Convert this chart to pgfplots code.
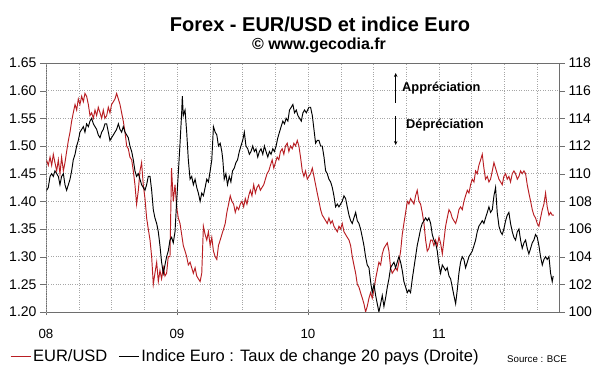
\documentclass[border=0pt]{standalone}
\usepackage{pgfplots}
\pgfplotsset{compat=1.18}
\usepackage{fontspec}
\setmainfont{Liberation Sans}
\usetikzlibrary{arrows.meta}
\definecolor{eurred}{RGB}{185,30,35}
\definecolor{axgray}{RGB}{110,110,110}
\begin{document}
\begin{tikzpicture}
\useasboundingbox (-46pt,-60pt) rectangle (554pt,312pt);
\begin{axis}[
  at={(0pt,0pt)}, anchor=south west,
  scale only axis, width=513pt, height=249pt,
  xmin=0, xmax=47, ymin=1.2, ymax=1.65,
  xtick={0,12,24,36}, xticklabels={},
  minor xtick={3,6,9,15,18,21,27,30,33,39,42,45},
  ytick={1.2,1.25,1.3,1.35,1.4,1.45,1.5,1.55,1.6,1.65},
  xtick pos=bottom, ytick pos=left,
  tick align=outside, major tick length=6pt, minor tick length=0pt,
  xtick style={yshift=3pt},
  xmajorgrids, xminorgrids, ymajorgrids,
  grid style={dotted, gray!70},
  minor grid style={dotted, gray!70},
  axis line style={axgray},
  tick style={axgray},
  /pgf/number format/assume math mode=true,
  yticklabel style={/pgf/number format/.cd, fixed, fixed zerofill, precision=2, /tikz/.cd, font=\fontsize{14}{16}\selectfont},
  extra x ticks={0,12,24,36}, extra x tick labels={08,09,10,11},
  extra x tick style={major tick length=0pt, xticklabel style={font=\fontsize{13.3}{15}\selectfont, anchor=base, yshift=-27pt}},
  legend style={at={(axis description cs:-0.0702,-0.1767)}, anchor=west, draw=none, fill=none,
    inner sep=0pt, font=\fontsize{16.5}{18}\selectfont, /tikz/every even column/.append style={column sep=9pt}},
  legend columns=2, legend cell align=left,
  legend image code/.code={\draw[#1] (0pt,0pt) -- (20pt,0pt);},
]
\addplot[eurred, line width=0.95pt] coordinates {
(0.06,1.474)(0.21,1.465)(0.37,1.48)(0.52,1.465)(0.67,1.485)(0.82,1.47)(0.98,1.455)(1.13,1.475)(1.28,1.45)(1.43,1.48)(1.59,1.455)(1.74,1.47)(1.89,1.49)(2.05,1.51)(2.20,1.525)(2.35,1.545)(2.50,1.56)(2.66,1.575)(2.81,1.565)(2.96,1.585)(3.11,1.575)(3.27,1.59)(3.42,1.58)(3.57,1.595)(3.72,1.59)(3.88,1.575)(4.03,1.555)(4.18,1.56)(4.34,1.55)(4.49,1.565)(4.64,1.555)(4.79,1.57)(4.95,1.56)(5.10,1.55)(5.25,1.565)(5.40,1.55)(5.56,1.555)(5.71,1.57)(5.86,1.56)(6.01,1.575)(6.17,1.58)(6.32,1.585)(6.47,1.595)(6.63,1.585)(6.78,1.575)(6.93,1.56)(7.08,1.545)(7.24,1.525)(7.39,1.50)(7.54,1.495)(7.69,1.48)(7.85,1.475)(8.00,1.455)(8.15,1.43)(8.30,1.395)(8.46,1.42)(8.61,1.455)(8.76,1.47)(8.91,1.43)(9.07,1.405)(9.22,1.37)(9.37,1.35)(9.53,1.33)(9.68,1.30)(9.83,1.25)(9.98,1.27)(10.14,1.29)(10.29,1.255)(10.44,1.275)(10.59,1.26)(10.75,1.28)(10.90,1.265)(11.05,1.27)(11.20,1.30)(11.36,1.30)(11.50,1.46)(11.66,1.40)(11.82,1.43)(11.97,1.39)
(12.12,1.37)(12.28,1.36)(12.43,1.34)(12.58,1.32)(12.74,1.31)(12.89,1.30)(13.04,1.285)(13.20,1.29)(13.35,1.28)(13.50,1.27)(13.66,1.28)(13.81,1.265)(13.96,1.26)(14.12,1.255)(14.27,1.27)(14.42,1.355)(14.58,1.34)(14.73,1.33)(14.88,1.345)(15.04,1.32)(15.19,1.335)(15.34,1.31)(15.50,1.30)(15.65,1.295)(15.80,1.32)(15.96,1.33)(16.11,1.34)(16.27,1.35)(16.42,1.36)(16.57,1.38)(16.73,1.395)(16.88,1.41)(17.03,1.40)(17.19,1.395)(17.34,1.38)(17.49,1.39)(17.65,1.385)(17.80,1.395)(17.95,1.40)(18.11,1.39)(18.26,1.405)(18.41,1.395)(18.57,1.41)(18.72,1.42)(18.87,1.41)(19.03,1.43)(19.18,1.415)(19.33,1.425)(19.49,1.43)(19.64,1.42)(19.79,1.425)(19.95,1.43)(20.10,1.44)(20.25,1.45)(20.41,1.455)(20.56,1.465)(20.72,1.475)(20.87,1.46)(21.02,1.47)(21.18,1.48)(21.33,1.475)(21.48,1.49)(21.64,1.495)(21.79,1.485)(21.94,1.50)(22.10,1.505)(22.25,1.49)(22.40,1.50)(22.56,1.495)(22.71,1.505)(22.86,1.50)(23.02,1.51)(23.17,1.50)(23.32,1.48)(23.48,1.455)(23.63,1.445)(23.78,1.455)(23.94,1.44)
(24.09,1.445)(24.24,1.45)(24.40,1.46)(24.55,1.445)(24.70,1.43)(24.85,1.415)(25.01,1.40)(25.16,1.385)(25.31,1.375)(25.47,1.37)(25.62,1.365)(25.77,1.36)(25.92,1.37)(26.08,1.36)(26.23,1.365)(26.38,1.355)(26.53,1.35)(26.69,1.345)(26.84,1.355)(26.99,1.35)(27.14,1.36)(27.30,1.345)(27.45,1.34)(27.60,1.335)(27.76,1.33)(27.91,1.32)(28.06,1.30)(28.21,1.285)(28.37,1.27)(28.52,1.25)(28.67,1.245)(28.82,1.235)(28.98,1.225)(29.13,1.215)(29.28,1.20)(29.43,1.21)(29.59,1.225)(29.74,1.235)(29.89,1.225)(30.05,1.24)(30.20,1.26)(30.35,1.275)(30.50,1.29)(30.66,1.285)(30.81,1.305)(30.96,1.315)(31.11,1.32)(31.27,1.325)(31.42,1.31)(31.57,1.28)(31.72,1.27)(31.88,1.275)(32.03,1.28)(32.18,1.275)(32.33,1.29)(32.49,1.31)(32.64,1.34)(32.79,1.36)(32.95,1.38)(33.10,1.40)(33.25,1.395)(33.40,1.405)(33.56,1.40)(33.71,1.395)(33.86,1.41)(34.01,1.42)(34.17,1.40)(34.32,1.395)(34.47,1.38)(34.63,1.36)(34.78,1.33)(34.93,1.31)(35.08,1.315)(35.24,1.33)(35.39,1.33)(35.54,1.32)(35.69,1.33)(35.85,1.32)(36.00,1.335)
(36.15,1.325)(36.31,1.305)(36.46,1.33)(36.61,1.355)(36.76,1.37)(36.92,1.385)(37.07,1.38)(37.22,1.37)(37.37,1.365)(37.53,1.36)(37.68,1.37)(37.83,1.385)(37.98,1.39)(38.14,1.385)(38.29,1.40)(38.44,1.41)(38.60,1.42)(38.75,1.415)(38.90,1.43)(39.05,1.44)(39.21,1.435)(39.36,1.455)(39.51,1.45)(39.66,1.465)(39.82,1.475)(39.97,1.485)(40.12,1.46)(40.27,1.44)(40.43,1.445)(40.58,1.435)(40.73,1.44)(40.89,1.455)(41.04,1.47)(41.19,1.46)(41.34,1.45)(41.50,1.44)(41.65,1.435)(41.80,1.43)(41.95,1.445)(42.11,1.45)(42.26,1.44)(42.41,1.445)(42.56,1.435)(42.72,1.45)(42.87,1.455)(43.02,1.45)(43.18,1.44)(43.33,1.445)(43.48,1.455)(43.63,1.45)(43.79,1.455)(43.94,1.45)(44.09,1.43)(44.24,1.415)(44.40,1.40)(44.55,1.385)(44.70,1.375)(44.85,1.37)(45.01,1.36)(45.16,1.355)(45.31,1.37)(45.47,1.385)(45.62,1.395)(45.77,1.415)(45.92,1.39)(46.08,1.375)(46.23,1.38)(46.38,1.375)(46.53,1.375)
};
\addlegendentry{EUR/USD}
\addlegendimage{black, line width=0.95pt}
\addlegendentry{Indice Euro : Taux de change 20 pays (Droite)}
\end{axis}
\begin{axis}[
  at={(0pt,0pt)}, anchor=south west,
  scale only axis, width=513pt, height=249pt,
  xmin=0, xmax=47, ymin=100, ymax=118,
  ytick={100,102,104,106,108,110,112,114,116,118},
  axis y line*=right, axis x line=none,
  tick align=outside, major tick length=6pt,
  axis line style={axgray}, tick style={axgray},
  /pgf/number format/assume math mode=true,
  yticklabel style={font=\fontsize{14}{16}\selectfont},
]
\addplot[black, line width=0.95pt] coordinates {
(0.06,108.8)(0.21,109.0)(0.37,109.8)(0.52,110.0)(0.67,109.8)(0.82,110.2)(0.98,110.0)(1.13,109.8)(1.28,109.2)(1.43,109.8)(1.59,110.0)(1.74,109.2)(1.89,108.8)(2.05,109.2)(2.20,109.6)(2.35,110.2)(2.50,111.0)(2.66,111.4)(2.81,112.0)(2.96,112.4)(3.11,113.0)(3.27,113.2)(3.42,113.4)(3.57,113.0)(3.72,113.6)(3.88,113.4)(4.03,113.8)(4.18,114.0)(4.34,113.6)(4.49,113.4)(4.64,113.2)(4.79,112.8)(4.95,112.6)(5.10,113.0)(5.25,113.2)(5.40,113.6)(5.56,113.6)(5.71,113.0)(5.86,112.4)(6.01,112.6)(6.17,112.8)(6.32,113.0)(6.47,113.2)(6.63,113.6)(6.78,113.2)(6.93,113.0)(7.08,113.4)(7.24,113.0)(7.39,112.8)(7.54,112.6)(7.69,112.0)(7.85,111.6)(8.00,111.0)(8.15,110.2)(8.30,109.8)(8.46,110.0)(8.61,109.6)(8.76,109.2)(8.91,109.0)(9.07,108.8)(9.22,109.2)(9.37,109.8)(9.53,109.8)(9.68,108.8)(9.83,107.4)(9.98,106.8)(10.14,106.4)(10.29,105.8)(10.44,104.8)(10.59,103.6)(10.75,102.8)(10.90,103.4)(11.05,104.0)(11.20,104.4)(11.36,105.2)(11.51,105.4)(11.66,105.0)(11.82,105.8)(11.97,108.0)
(12.12,110.0)(12.28,112.2)(12.43,114.4)(12.49,115.6)(12.58,114.2)(12.74,114.6)(12.89,113.0)(13.04,111.0)(13.20,109.6)(13.35,109.8)(13.50,109.2)(13.66,109.6)(13.81,109.0)(13.96,108.6)(14.12,108.0)(14.27,108.6)(14.42,108.4)(14.58,109.0)(14.73,109.6)(14.88,109.4)(15.04,110.2)(15.19,111.0)(15.34,113.4)(15.50,113.0)(15.65,112.8)(15.80,112.0)(15.96,112.2)(16.11,111.6)(16.20,111.0)(16.33,109.6)(16.48,110.0)(16.63,109.2)(16.79,109.8)(16.94,109.4)(17.09,110.2)(17.25,110.4)(17.40,110.8)(17.55,111.0)(17.71,111.6)(17.86,112.0)(18.02,112.4)(18.17,113.0)(18.32,112.0)(18.48,111.8)(18.63,111.4)(18.78,111.6)(18.94,112.0)(19.09,111.6)(19.24,111.8)(19.40,111.2)(19.55,111.6)(19.70,111.8)(19.86,111.4)(20.01,112.0)(20.16,111.6)(20.32,111.2)(20.47,111.6)(20.62,111.4)(20.78,111.8)(20.93,111.6)(21.08,112.0)(21.24,112.6)(21.39,113.0)(21.54,113.4)(21.70,113.8)(21.85,113.6)(22.00,114.0)(22.16,113.8)(22.31,114.6)(22.47,114.8)(22.62,115.0)(22.77,114.4)(22.93,114.6)(23.08,114.2)(23.23,114.0)(23.39,113.8)(23.54,114.4)(23.69,114.6)(23.85,114.4)
(24.09,114.8)(24.24,114.8)(24.40,114.2)(24.55,113.2)(24.70,112.2)(24.85,112.4)(25.01,112.4)(25.16,112.0)(25.31,112.0)(25.47,111.2)(25.62,110.2)(25.77,110.0)(25.92,109.6)(26.08,109.4)(26.23,109.0)(26.38,108.4)(26.53,107.6)(26.69,107.8)(26.84,107.6)(26.99,107.8)(27.14,108.0)(27.30,108.4)(27.45,108.2)(27.60,107.6)(27.76,107.0)(27.91,106.6)(28.06,106.4)(28.21,106.8)(28.37,107.2)(28.52,106.6)(28.67,106.4)(28.82,106.0)(28.98,105.4)(29.13,104.8)(29.28,104.0)(29.43,103.4)(29.59,103.2)(29.74,102.2)(29.89,101.4)(30.05,102.0)(30.20,101.2)(30.35,100.6)(30.50,100.0)(30.66,100.6)(30.81,101.2)(30.96,100.4)(31.11,101.0)(31.27,101.8)(31.42,102.4)(31.57,103.2)(31.72,103.4)(31.88,103.6)(32.03,103.2)(32.18,103.6)(32.33,104.0)(32.49,103.6)(32.64,103.0)(32.79,102.2)(32.95,101.8)(33.10,101.4)(33.25,101.6)(33.40,101.4)(33.56,102.4)(33.71,103.2)(33.86,104.0)(34.01,104.8)(34.17,105.4)(34.32,106.0)(34.47,106.4)(34.63,106.6)(34.78,106.8)(34.93,106.6)(35.08,106.8)(35.24,106.4)(35.39,105.6)(35.54,105.2)(35.69,105.0)(35.85,104.4)(36.00,103.4)
(36.15,102.8)(36.31,103.4)(36.46,103.2)(36.61,103.0)(36.76,103.2)(36.92,102.6)(37.07,102.4)(37.22,101.8)(37.37,101.2)(37.53,100.6)(37.68,101.6)(37.83,102.8)(37.98,103.6)(38.14,104.0)(38.29,103.8)(38.44,103.2)(38.60,103.6)(38.75,104.0)(38.90,104.2)(39.05,104.4)(39.21,104.8)(39.36,105.2)(39.51,105.8)(39.66,106.2)(39.82,106.4)(39.97,106.6)(40.12,106.4)(40.27,106.8)(40.43,107.2)(40.58,107.6)(40.73,107.2)(40.89,107.4)(41.04,108.4)(41.19,109.0)(41.34,107.2)(41.50,106.2)(41.65,105.8)(41.80,105.6)(41.95,106.0)(42.11,106.6)(42.26,107.0)(42.41,107.2)(42.56,106.4)(42.72,105.8)(42.87,105.4)(43.02,105.2)(43.18,105.8)(43.33,106.0)(43.48,105.2)(43.63,104.6)(43.79,105.0)(43.94,105.2)(44.09,104.6)(44.24,104.2)(44.40,104.6)(44.55,105.0)(44.70,105.2)(44.85,105.6)(45.01,105.4)(45.16,104.8)(45.31,104.0)(45.47,103.4)(45.62,103.8)(45.77,104.0)(45.92,103.8)(46.08,104.0)(46.23,102.8)(46.38,102.2)(46.47,102.6)
};
\end{axis}
\node[anchor=base, inner sep=0pt, font=\fontsize{20}{24}\selectfont\bfseries] at (274pt,280pt) {Forex - EUR/USD et indice Euro};
\node[anchor=base, inner sep=0pt, font=\fontsize{16}{19}\selectfont\bfseries] at (273pt,262pt) {© www.gecodia.fr};
\node[anchor=west, inner sep=0pt, font=\fontsize{12.8}{15}\selectfont\bfseries] at (356pt,224pt) {Appréciation};
\node[anchor=west, inner sep=0pt, font=\fontsize{12.8}{15}\selectfont\bfseries] at (360pt,187pt) {Dépréciation};
\draw[black, line width=0.8pt, -{Stealth[length=4pt,width=3.5pt]}] (349.7pt,209pt) -- (349.7pt,239pt);
\draw[black, line width=0.8pt, -{Stealth[length=4pt,width=3.5pt]}] (349.7pt,196pt) -- (349.7pt,167pt);
\node[anchor=base west, inner sep=0pt, font=\fontsize{9.7}{11}\selectfont] at (461pt,-51pt) {Source : BCE};
\end{tikzpicture}
\end{document}
